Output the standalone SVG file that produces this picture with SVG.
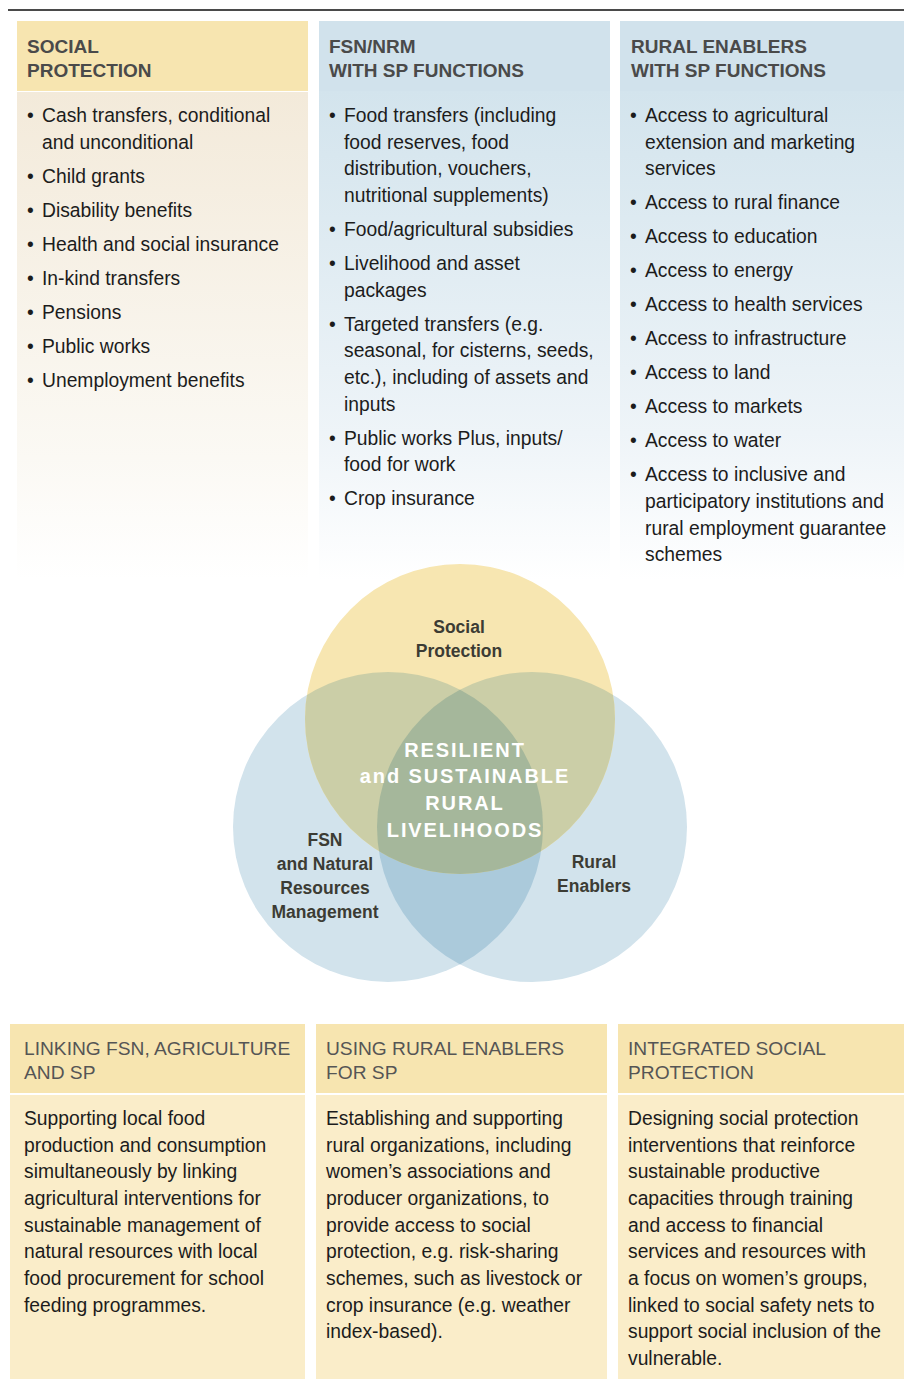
<svg xmlns="http://www.w3.org/2000/svg" width="904" height="1388" viewBox="0 0 904 1388">
<defs>
<linearGradient id="gBeige" x1="0" y1="0" x2="0" y2="1">
<stop offset="0" stop-color="#f3eada"/>
<stop offset="0.75" stop-color="#fbf9f4"/>
<stop offset="1" stop-color="#ffffff"/>
</linearGradient>
<linearGradient id="gBlue" x1="0" y1="0" x2="0" y2="1">
<stop offset="0" stop-color="#d3e4ed"/>
<stop offset="0.7" stop-color="#eef4f8"/>
<stop offset="1" stop-color="#ffffff"/>
</linearGradient>
<clipPath id="cL"><circle cx="388" cy="827" r="155"/></clipPath>
<clipPath id="cR"><circle cx="532" cy="827" r="155"/></clipPath>
</defs>
<style>
text{font-family:"Liberation Sans",Arial,sans-serif;}
.hd{font-size:19px;font-weight:bold;fill:#4a4a4a;}
.bt{font-size:19.3px;fill:#1c1c1c;}
.bh{font-size:19.2px;fill:#555555;}
.vl{font-size:17.5px;font-weight:bold;fill:#3c3c34;text-anchor:middle;}
.vc{font-size:20px;font-weight:bold;fill:#ffffff;text-anchor:middle;letter-spacing:1.9px;}
.yh{fill:#f7e5b0;}
.bh2{fill:#d1e2ec;}
.yb{fill:#faedc9;}
</style>
<rect x="0" y="0" width="904" height="1388" fill="#ffffff"/>
<line x1="8" y1="10" x2="904" y2="10" stroke="#4a4a4a" stroke-width="2"/>

<g id="col-social-protection">
<rect class="yh" x="17" y="21" width="291" height="70"/>
<rect x="17" y="92" width="291" height="488" fill="url(#gBeige)"/>
<text class="hd" x="27" y="53">SOCIAL</text>
<text class="hd" x="27" y="77">PROTECTION</text>
<g class="bt">
<text x="27" y="122">•</text><text x="42" y="122">Cash transfers, conditional</text>
<text x="42" y="148.7">and unconditional</text>
<text x="27" y="182.7">•</text><text x="42" y="182.7">Child grants</text>
<text x="27" y="216.7">•</text><text x="42" y="216.7">Disability benefits</text>
<text x="27" y="250.7">•</text><text x="42" y="250.7">Health and social insurance</text>
<text x="27" y="284.7">•</text><text x="42" y="284.7">In-kind transfers</text>
<text x="27" y="318.7">•</text><text x="42" y="318.7">Pensions</text>
<text x="27" y="352.7">•</text><text x="42" y="352.7">Public works</text>
<text x="27" y="386.7">•</text><text x="42" y="386.7">Unemployment benefits</text>
</g>
</g>

<g id="col-fsn-nrm">
<rect class="bh2" x="319" y="21" width="291" height="71"/>
<rect x="319" y="91" width="291" height="489" fill="url(#gBlue)"/>
<text class="hd" x="329" y="53">FSN/NRM</text>
<text class="hd" x="329" y="77">WITH SP FUNCTIONS</text>
<g class="bt">
<text x="329" y="122">•</text><text x="344" y="122">Food transfers (including</text>
<text x="344" y="148.7">food reserves, food</text>
<text x="344" y="175.3">distribution, vouchers,</text>
<text x="344" y="202">nutritional supplements)</text>
<text x="329" y="236">•</text><text x="344" y="236">Food/agricultural subsidies</text>
<text x="329" y="270">•</text><text x="344" y="270">Livelihood and asset</text>
<text x="344" y="296.7">packages</text>
<text x="329" y="330.7">•</text><text x="344" y="330.7">Targeted transfers (e.g.</text>
<text x="344" y="357.3">seasonal, for cisterns, seeds,</text>
<text x="344" y="384">etc.), including of assets and</text>
<text x="344" y="410.7">inputs</text>
<text x="329" y="444.7">•</text><text x="344" y="444.7">Public works Plus, inputs/</text>
<text x="344" y="471.3">food for work</text>
<text x="329" y="505.3">•</text><text x="344" y="505.3">Crop insurance</text>
</g>
</g>

<g id="col-rural-enablers">
<rect class="bh2" x="620" y="21" width="284" height="71"/>
<rect x="620" y="91" width="284" height="489" fill="url(#gBlue)"/>
<text class="hd" x="631" y="53">RURAL ENABLERS</text>
<text class="hd" x="631" y="77">WITH SP FUNCTIONS</text>
<g class="bt">
<text x="630" y="122">•</text><text x="645" y="122">Access to agricultural</text>
<text x="645" y="148.7">extension and marketing</text>
<text x="645" y="175.3">services</text>
<text x="630" y="209.3">•</text><text x="645" y="209.3">Access to rural finance</text>
<text x="630" y="243.3">•</text><text x="645" y="243.3">Access to education</text>
<text x="630" y="277.3">•</text><text x="645" y="277.3">Access to energy</text>
<text x="630" y="311.3">•</text><text x="645" y="311.3">Access to health services</text>
<text x="630" y="345.3">•</text><text x="645" y="345.3">Access to infrastructure</text>
<text x="630" y="379.3">•</text><text x="645" y="379.3">Access to land</text>
<text x="630" y="413.3">•</text><text x="645" y="413.3">Access to markets</text>
<text x="630" y="447.3">•</text><text x="645" y="447.3">Access to water</text>
<text x="630" y="481.3">•</text><text x="645" y="481.3">Access to inclusive and</text>
<text x="645" y="508">participatory institutions and</text>
<text x="645" y="534.7">rural employment guarantee</text>
<text x="645" y="561.3">schemes</text>
</g>
</g>

<g id="venn">
<g id="circle-fsn"><circle cx="388" cy="827" r="155" fill="#d2e3ec"/></g>
<g id="circle-rural"><circle cx="532" cy="827" r="155" fill="#d2e3ec"/></g>
<g id="circle-sp"><circle cx="460" cy="719" r="155" fill="#f7e6b1"/></g>
<g clip-path="url(#cL)"><circle cx="532" cy="827" r="155" fill="#abcadb"/></g>
<g clip-path="url(#cL)"><circle cx="460" cy="719" r="155" fill="#cbcea7"/></g>
<g clip-path="url(#cR)"><circle cx="460" cy="719" r="155" fill="#cbcea7"/></g>
<g clip-path="url(#cL)"><g clip-path="url(#cR)"><circle cx="460" cy="719" r="155" fill="#a5b79b"/></g></g>
<text class="vl" x="459" y="633">Social</text>
<text class="vl" x="459" y="657">Protection</text>
<text class="vl" x="325" y="846">FSN</text>
<text class="vl" x="325" y="870">and Natural</text>
<text class="vl" x="325" y="894">Resources</text>
<text class="vl" x="325" y="918">Management</text>
<text class="vl" x="594" y="868">Rural</text>
<text class="vl" x="594" y="892">Enablers</text>
<g id="venn-center">
<text class="vc" x="465" y="757">RESILIENT</text>
<text class="vc" x="465" y="783">and SUSTAINABLE</text>
<text class="vc" x="465" y="810">RURAL</text>
<text class="vc" x="465" y="837">LIVELIHOODS</text>
</g>
</g>

<g id="box-linking">
<rect class="yh" x="10" y="1024" width="295" height="69"/>
<rect class="yb" x="10" y="1095" width="295" height="284"/>
<text class="bh" x="24" y="1055">LINKING FSN, AGRICULTURE</text>
<text class="bh" x="24" y="1079">AND SP</text>
<g class="bt">
<text x="24" y="1125">Supporting local food</text>
<text x="24" y="1151.7">production and consumption</text>
<text x="24" y="1178.3">simultaneously by linking</text>
<text x="24" y="1205">agricultural interventions for</text>
<text x="24" y="1231.7">sustainable management of</text>
<text x="24" y="1258.3">natural resources with local</text>
<text x="24" y="1285">food procurement for school</text>
<text x="24" y="1311.7">feeding programmes.</text>
</g>
</g>

<g id="box-using">
<rect class="yh" x="316" y="1024" width="291" height="69"/>
<rect class="yb" x="316" y="1095" width="291" height="284"/>
<text class="bh" x="326" y="1055">USING RURAL ENABLERS</text>
<text class="bh" x="326" y="1079">FOR SP</text>
<g class="bt">
<text x="326" y="1125">Establishing and supporting</text>
<text x="326" y="1151.7">rural organizations, including</text>
<text x="326" y="1178.3">women’s associations and</text>
<text x="326" y="1205">producer organizations, to</text>
<text x="326" y="1231.7">provide access to social</text>
<text x="326" y="1258.3">protection, e.g. risk-sharing</text>
<text x="326" y="1285">schemes, such as livestock or</text>
<text x="326" y="1311.7">crop insurance (e.g. weather</text>
<text x="326" y="1338.3">index-based).</text>
</g>
</g>

<g id="box-integrated">
<rect class="yh" x="618" y="1024" width="286" height="69"/>
<rect class="yb" x="618" y="1095" width="286" height="284"/>
<text class="bh" x="628" y="1055">INTEGRATED SOCIAL</text>
<text class="bh" x="628" y="1079">PROTECTION</text>
<g class="bt">
<text x="628" y="1125">Designing social protection</text>
<text x="628" y="1151.7">interventions that reinforce</text>
<text x="628" y="1178.3">sustainable productive</text>
<text x="628" y="1205">capacities through training</text>
<text x="628" y="1231.7">and access to financial</text>
<text x="628" y="1258.3">services and resources with</text>
<text x="628" y="1285">a focus on women’s groups,</text>
<text x="628" y="1311.7">linked to social safety nets to</text>
<text x="628" y="1338.3">support social inclusion of the</text>
<text x="628" y="1365">vulnerable.</text>
</g>
</g>

<g id="connectors"/>
</svg>
